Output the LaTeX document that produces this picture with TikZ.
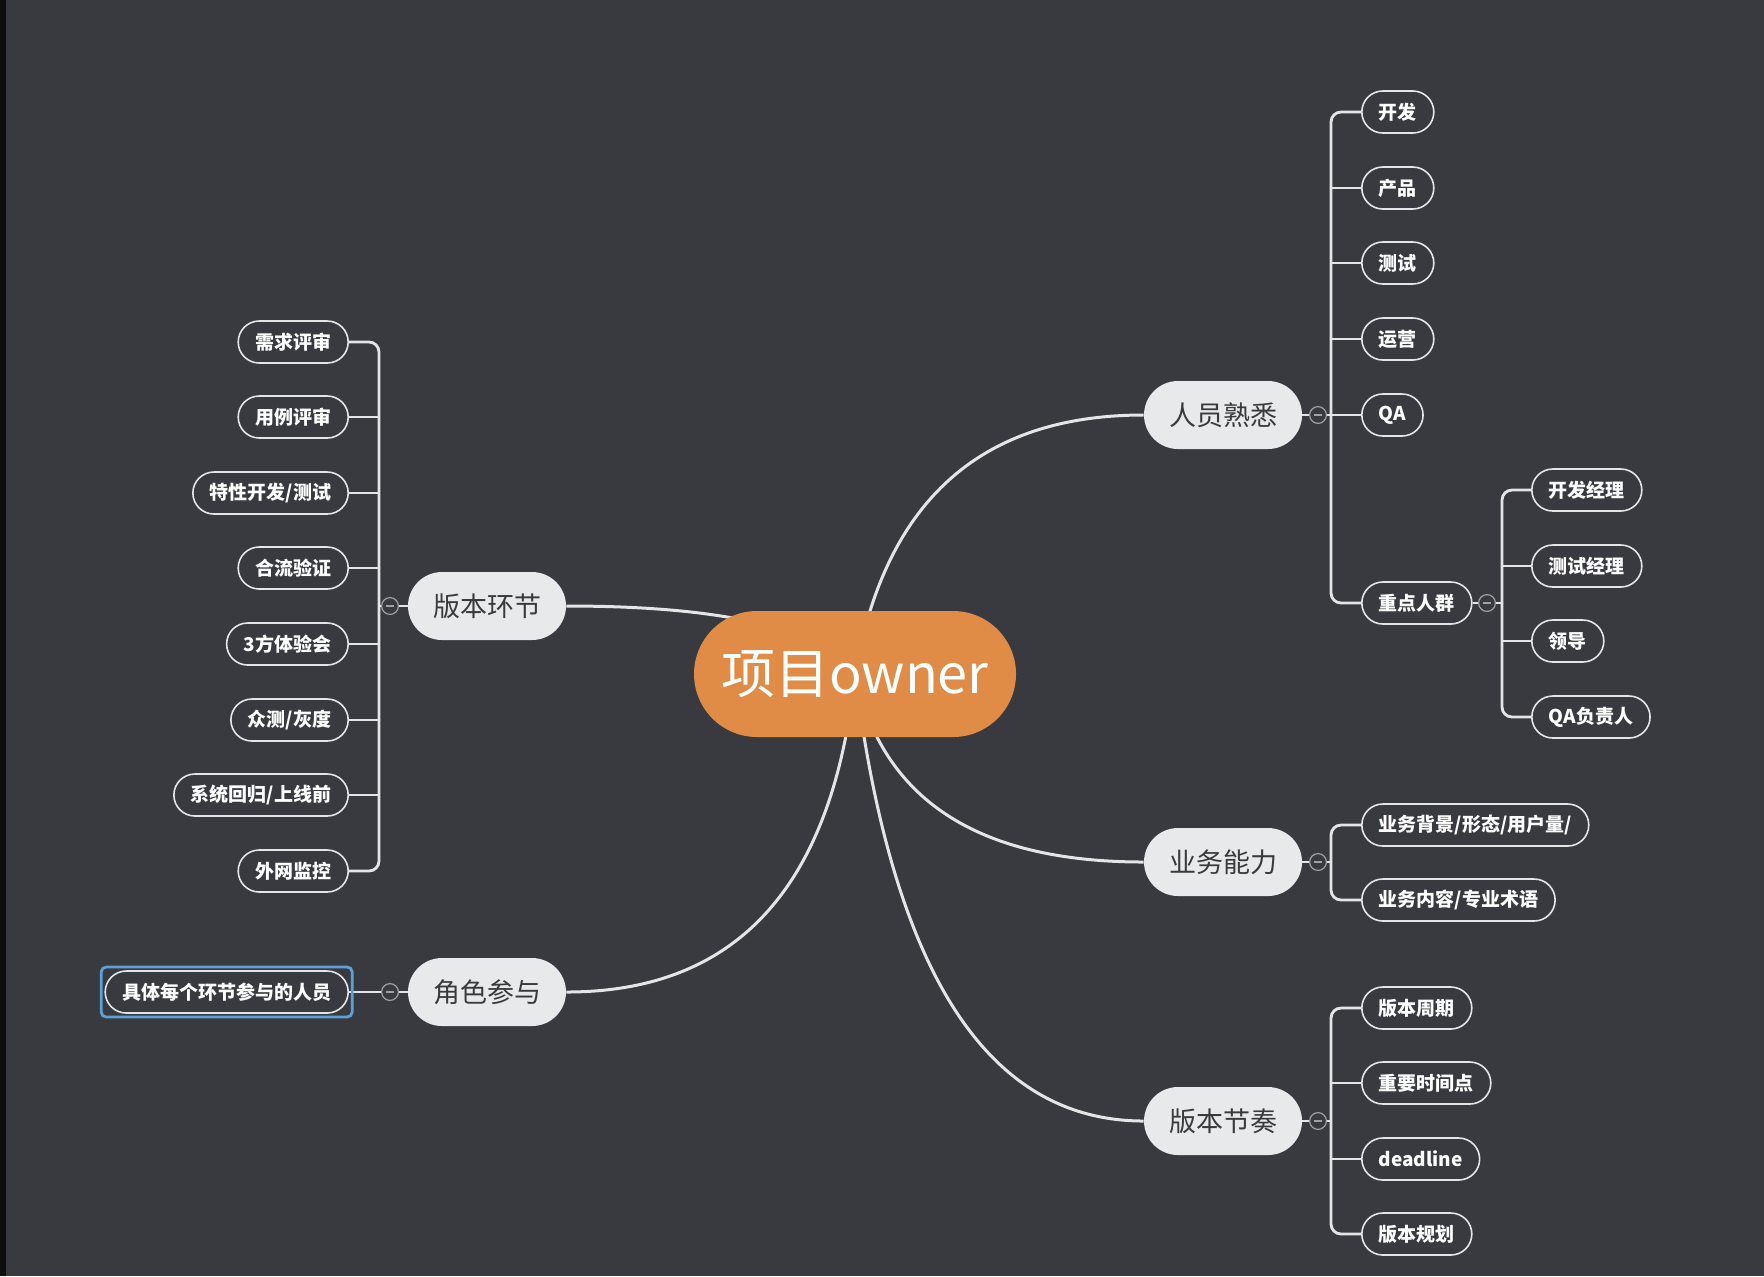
\documentclass[tikz,border=0pt]{standalone}
\usepackage{fontspec}
\setmainfont{Noto Sans CJK SC}
\usetikzlibrary{backgrounds,fit}
\definecolor{cbg}{HTML}{393A3F}
\definecolor{cstrip}{HTML}{0E0E0E}
\definecolor{corange}{HTML}{E08C47}
\definecolor{ctopic}{HTML}{E8E9EB}
\definecolor{ctext}{HTML}{3A3A3C}
\definecolor{cline}{HTML}{E4E5E7}
\definecolor{cfold}{HTML}{A0A1A5}
\definecolor{cblue}{HTML}{5DA0D8}
\begin{document}
\begin{tikzpicture}[x=0.5pt,y=-0.5pt,
  central/.style={fill=corange, rounded corners=31.5pt, minimum width=161pt, minimum height=63pt, text=white, font=\fontsize{27}{27}\selectfont, inner sep=0pt},
  topic/.style={fill=ctopic, rounded corners=17pt, minimum width=79pt, minimum height=34pt, text=ctext, font=\fontsize{13.5}{13.5}\selectfont, inner sep=0pt},
  subnode/.style={draw=cline, line width=0.8pt, fill=cbg, rounded corners=10.5pt, minimum height=21pt, inner xsep=8.5pt, inner ysep=0pt, text=white, font=\fontsize{9.5}{9.5}\selectfont\bfseries},
  rsub/.style={subnode, anchor=west},
  lsub/.style={subnode, anchor=east},
  fold/.style={circle, draw=cfold, line width=0.6pt, fill=cbg, minimum size=8.4pt, inner sep=0pt,
    path picture={\draw[cfold, line width=0.6pt] ([xshift=-2.2pt]path picture bounding box.center) -- ([xshift=2.2pt]path picture bounding box.center);}},
  conn/.style={draw=cline, line width=1.5pt},
  brk/.style={draw=cline, line width=1.4pt, rounded corners=5pt},
  selbox/.style={draw=cblue, line width=1.4pt, rounded corners=2.5pt, inner sep=1.6pt}
]
\useasboundingbox (0,0) rectangle (1764,1276);

% central and main topics
\node[central] (c) at (855,674) {项目owner};
\node[topic] (t1) at (1223,415) {人员熟悉};
\node[topic] (t2) at (1223,862) {业务能力};
\node[topic] (t3) at (1223,1121) {版本节奏};
\node[topic] (t4) at (487,992) {角色参与};
\node[topic] (t5) at (487,606) {版本环节};

% fold markers and junctions
\node[fold] (f1) at (1318,415) {};
\node[fold] (f2) at (1318,862) {};
\node[fold] (f3) at (1318,1121) {};
\node[fold] (f4) at (390,992) {};
\node[fold] (f5) at (390,606) {};
\node[fold] (f16) at (1487,603) {};
\coordinate (j1) at (1331,415);
\coordinate (j2) at (1331,862);
\coordinate (j3) at (1331,1121);
\coordinate (j5) at (379,606);
\coordinate (j16) at (1502,603);

% 人员熟悉
\node[rsub] (s11) at (1361,112) {开发};
\node[rsub] (s12) at (1361,188) {产品};
\node[rsub] (s13) at (1361,263) {测试};
\node[rsub] (s14) at (1361,339) {运营};
\node[rsub] (s15) at (1361,415) {QA};
\node[rsub] (s16) at (1361,603) {重点人群};
\node[rsub] (s161) at (1531,490) {开发经理};
\node[rsub] (s162) at (1531,566) {测试经理};
\node[rsub] (s163) at (1531,641) {领导};
\node[rsub] (s164) at (1531,717) {QA负责人};

% 业务能力
\node[rsub] (s21) at (1361,825) {业务背景/形态/用户量/};
\node[rsub] (s22) at (1361,900) {业务内容/专业术语};

% 版本节奏
\node[rsub] (s31) at (1361,1008) {版本周期};
\node[rsub] (s32) at (1361,1083) {重要时间点};
\node[rsub] (s33) at (1361,1159) {deadline};
\node[rsub] (s34) at (1361,1234) {版本规划};

% 版本环节
\node[lsub] (s51) at (349,342) {需求评审};
\node[lsub] (s52) at (349,417) {用例评审};
\node[lsub] (s53) at (349,493) {特性开发/测试};
\node[lsub] (s54) at (349,568) {合流验证};
\node[lsub] (s55) at (349,644) {3方体验会};
\node[lsub] (s56) at (349,720) {众测/灰度};
\node[lsub] (s57) at (349,795) {系统回归/上线前};
\node[lsub] (s58) at (349,871) {外网监控};

% 角色参与
\node[lsub] (s41) at (349,992) {具体每个环节参与的人员};
\node[selbox, fit=(s41)] (sel) {};

\begin{pgfonlayer}{background}
\fill[cbg] (0,0) rectangle (1764,1276);
\fill[cstrip] (0,0) rectangle (6,1276);
% main connectors
\draw[conn] (c.center) .. controls +(30,-173) and +(-163,0) .. (t1.west);
\draw[conn] (c.center) .. controls +(27,125) and +(-167,0) .. (t2.west);
\draw[conn] (c.center) .. controls +(37,297) and +(-157,0) .. (t3.west);
\draw[conn] (c.center) .. controls +(-22,212) and +(171,0) .. (t4.east);
\draw[conn] (c.center) .. controls +(-34,-45) and +(159,0) .. (t5.east);
% 人员熟悉 bracket
\draw[brk] (t1.east) -- (f1.west);
\draw[brk] (f1.east) -- (j1);
\draw[brk] (s11.west) -| (j1) |- (s16.west);
\draw[brk] (j1 |- s12.west) -- (s12.west);
\draw[brk] (j1 |- s13.west) -- (s13.west);
\draw[brk] (j1 |- s14.west) -- (s14.west);
\draw[brk] (j1 |- s15.west) -- (s15.west);
% 重点人群 bracket
\draw[brk] (s16.east) -- (f16.west);
\draw[brk] (f16.east) -- (j16);
\draw[brk] (s161.west) -| (j16) |- (s164.west);
\draw[brk] (j16 |- s162.west) -- (s162.west);
\draw[brk] (j16 |- s163.west) -- (s163.west);
% 业务能力 bracket
\draw[brk] (t2.east) -- (f2.west);
\draw[brk] (f2.east) -- (j2);
\draw[brk] (s21.west) -| (j2) |- (s22.west);
% 版本节奏 bracket
\draw[brk] (t3.east) -- (f3.west);
\draw[brk] (f3.east) -- (j3);
\draw[brk] (s31.west) -| (j3) |- (s34.west);
\draw[brk] (j3 |- s32.west) -- (s32.west);
\draw[brk] (j3 |- s33.west) -- (s33.west);
% 版本环节 bracket
\draw[brk] (t5.west) -- (f5.east);
\draw[brk] (f5.west) -- (j5);
\draw[brk] (s51.east) -| (j5) |- (s58.east);
\draw[brk] (j5 |- s52.east) -- (s52.east);
\draw[brk] (j5 |- s53.east) -- (s53.east);
\draw[brk] (j5 |- s54.east) -- (s54.east);
\draw[brk] (j5 |- s55.east) -- (s55.east);
\draw[brk] (j5 |- s56.east) -- (s56.east);
\draw[brk] (j5 |- s57.east) -- (s57.east);
% 角色参与
\draw[brk] (t4.west) -- (f4.east);
\draw[brk] (f4.west) -- (s41.east);
\end{pgfonlayer}
\end{tikzpicture}
\end{document}
